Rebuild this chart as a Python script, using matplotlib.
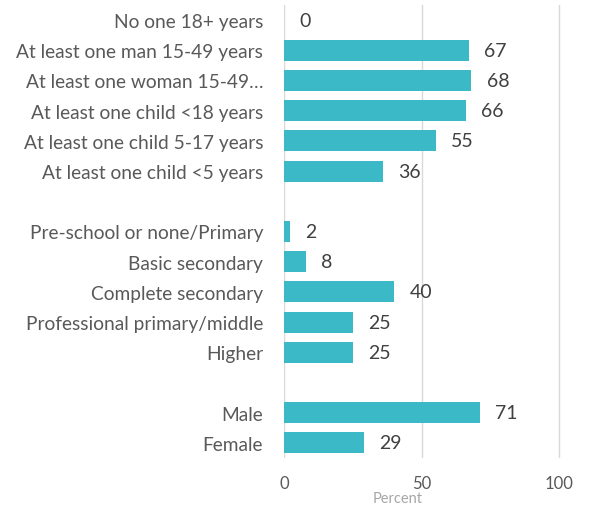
import matplotlib.pyplot as plt
import numpy as np

# rows top to bottom; None marks the blank spacer rows
labels = ["No one 18+ years", "At least one man 15-49 years",
          "At least one woman 15-49\u2026", "At least one child <18 years",
          "At least one child 5-17 years", "At least one child <5 years",
          "",
          "Pre-school or none/Primary", "Basic secondary", "Complete secondary",
          "Professional primary/middle", "Higher",
          "",
          "Male", "Female"]
values = [0, 67, 68, 66, 55, 36, None, 2, 8, 40, 25, 25, None, 71, 29]
xticks = [0, 50, 100]

bar_color = "#3BB9C7"
plt.rcParams['font.family'] = ['Lato', 'DejaVu Sans']

fig = plt.figure(figsize=(5.89, 5.06), dpi=100)
ax = fig.add_axes([284 / 589, 1 - 459 / 506, 303 / 589, 453 / 506])

ypos = np.arange(len(labels))
for y, v in zip(ypos, values):
    if v is None:
        continue
    ax.barh(y, v, height=0.7, color=bar_color, zorder=3)
    ax.annotate(str(v), (v, y), xytext=(11, 0), textcoords="offset points",
                va="center", ha="left", fontsize=14, color="#404040")

ax.set_xlim(0, 110)
ax.set_ylim(len(labels) - 0.5, -0.5)
ax.set_yticks(ypos)
ax.set_yticklabels(labels, fontsize=13.8, color="#595959")
ax.set_xticks(xticks)
ax.set_xticklabels([str(t) for t in xticks], fontsize=12, color="#595959")
ax.tick_params(axis="both", length=0)
ax.tick_params(axis="y", pad=15)
ax.tick_params(axis="x", pad=12)
ax.grid(axis="x", color="#D9D9D9", linewidth=1, zorder=0)
for s in ax.spines.values():
    s.set_visible(False)
ax.set_xlabel("Percent", fontsize=10.5, color="#A6A6A6")
ax.xaxis.set_label_coords(0.376, -0.072)

fig.savefig("out.png", dpi=100)
